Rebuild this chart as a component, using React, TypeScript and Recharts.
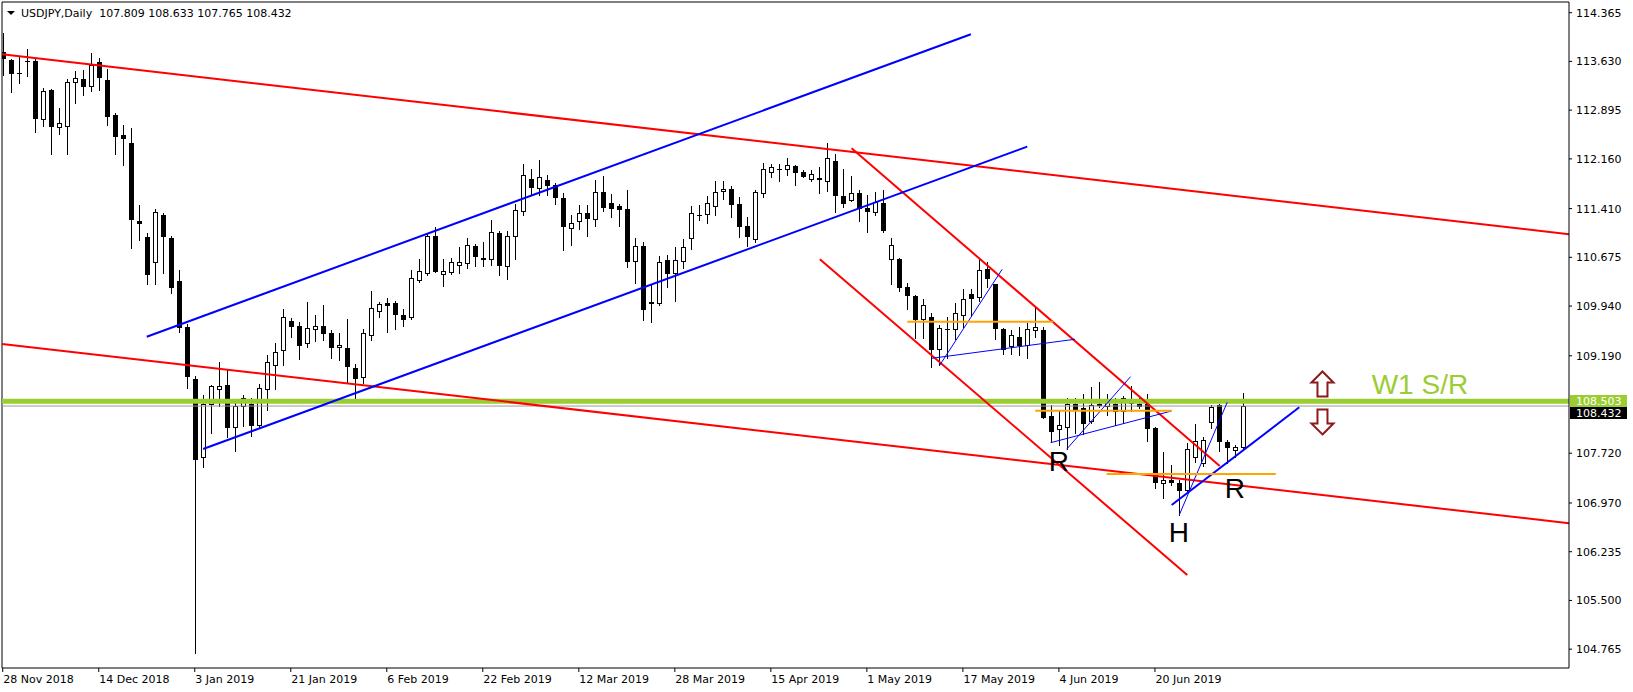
import React from 'react';
import { ComposedChart, Bar, XAxis, YAxis, ReferenceLine, ReferenceDot } from 'recharts';

const dates = [
  '28 Nov 2018','29 Nov 2018','30 Nov 2018','3 Dec 2018','4 Dec 2018','5 Dec 2018','6 Dec 2018','7 Dec 2018','10 Dec 2018','11 Dec 2018',
  '12 Dec 2018','13 Dec 2018','14 Dec 2018','17 Dec 2018','18 Dec 2018','19 Dec 2018','20 Dec 2018','21 Dec 2018','24 Dec 2018','26 Dec 2018',
  '27 Dec 2018','28 Dec 2018','31 Dec 2018','2 Jan 2019','3 Jan 2019','4 Jan 2019','7 Jan 2019','8 Jan 2019','9 Jan 2019','10 Jan 2019',
  '11 Jan 2019','14 Jan 2019','15 Jan 2019','16 Jan 2019','17 Jan 2019','18 Jan 2019','21 Jan 2019','22 Jan 2019','23 Jan 2019','24 Jan 2019',
  '25 Jan 2019','28 Jan 2019','29 Jan 2019','30 Jan 2019','31 Jan 2019','1 Feb 2019','4 Feb 2019','5 Feb 2019','6 Feb 2019','7 Feb 2019',
  '8 Feb 2019','11 Feb 2019','12 Feb 2019','13 Feb 2019','14 Feb 2019','15 Feb 2019','18 Feb 2019','19 Feb 2019','20 Feb 2019','21 Feb 2019',
  '22 Feb 2019','25 Feb 2019','26 Feb 2019','27 Feb 2019','28 Feb 2019','1 Mar 2019','4 Mar 2019','5 Mar 2019','6 Mar 2019','7 Mar 2019',
  '8 Mar 2019','11 Mar 2019','12 Mar 2019','13 Mar 2019','14 Mar 2019','15 Mar 2019','18 Mar 2019','19 Mar 2019','20 Mar 2019','21 Mar 2019',
  '22 Mar 2019','25 Mar 2019','26 Mar 2019','27 Mar 2019','28 Mar 2019','29 Mar 2019','1 Apr 2019','2 Apr 2019','3 Apr 2019','4 Apr 2019',
  '5 Apr 2019','8 Apr 2019','9 Apr 2019','10 Apr 2019','11 Apr 2019','12 Apr 2019','15 Apr 2019','16 Apr 2019','17 Apr 2019','18 Apr 2019',
  '19 Apr 2019','22 Apr 2019','23 Apr 2019','24 Apr 2019','25 Apr 2019','26 Apr 2019','29 Apr 2019','30 Apr 2019','1 May 2019','2 May 2019',
  '3 May 2019','6 May 2019','7 May 2019','8 May 2019','9 May 2019','10 May 2019','13 May 2019','14 May 2019','15 May 2019','16 May 2019',
  '17 May 2019','20 May 2019','21 May 2019','22 May 2019','23 May 2019','24 May 2019','27 May 2019','28 May 2019','29 May 2019','30 May 2019',
  '31 May 2019','3 Jun 2019','4 Jun 2019','5 Jun 2019','6 Jun 2019','7 Jun 2019','10 Jun 2019','11 Jun 2019','12 Jun 2019','13 Jun 2019',
  '14 Jun 2019','17 Jun 2019','18 Jun 2019','19 Jun 2019','20 Jun 2019','21 Jun 2019','24 Jun 2019','25 Jun 2019','26 Jun 2019','27 Jun 2019',
  '28 Jun 2019','1 Jul 2019','2 Jul 2019','3 Jul 2019','4 Jul 2019','5 Jul 2019',
];

const opens = [
  113.77,113.65,113.46,113.64,113.64,112.76,113.20,112.64,112.65,113.32,
  113.37,113.26,113.62,113.35,112.82,112.52,112.40,111.23,110.98,110.61,
  111.31,110.96,110.32,109.63,108.84,107.67,108.47,108.69,108.75,108.11,
  108.43,108.47,108.14,108.69,109.05,109.27,109.72,109.64,109.38,109.60,
  109.64,109.54,109.33,109.31,109.01,108.87,109.51,109.87,109.98,109.98,
  109.81,109.77,110.33,110.44,110.99,110.43,110.46,110.56,110.59,110.85,
  110.66,110.65,111.04,110.55,110.99,111.38,111.86,111.72,111.84,111.77,
  111.57,111.12,111.22,111.34,111.26,111.66,111.49,111.45,111.40,110.62,
  110.85,110.00,109.98,110.64,110.44,110.62,110.96,111.32,111.33,111.45,
  111.67,111.70,111.48,111.15,110.95,111.64,111.96,112.01,112.00,112.05,
  111.96,111.85,111.87,111.83,112.13,111.60,111.54,111.64,111.42,111.36,
  111.49,110.65,110.65,110.22,110.09,109.74,109.77,109.29,109.60,109.59,
  109.81,110.12,110.07,110.50,110.27,109.59,109.34,109.47,109.36,109.58,
  109.58,108.28,108.08,108.12,108.46,108.40,108.20,108.45,108.44,108.47,
  108.35,108.48,108.46,108.46,108.10,107.27,107.32,107.27,107.16,107.66,
  107.57,108.19,108.45,107.89,107.77,107.809,
];
const highs = [
  114.06,113.67,113.70,113.81,113.66,113.23,113.21,112.92,113.37,113.48,
  113.50,113.75,113.68,113.51,112.85,112.67,112.62,111.47,111.04,111.40,
  111.35,111.00,110.48,109.67,108.89,108.60,108.75,109.09,108.98,108.48,
  108.60,108.55,108.77,109.20,109.39,109.90,109.76,109.70,110.00,109.81,
  109.95,109.58,109.54,109.74,109.06,109.59,110.17,110.00,110.06,110.01,
  109.90,110.48,110.65,111.04,111.13,110.65,110.66,110.83,110.96,110.87,
  110.90,111.24,111.07,111.07,111.48,112.08,112.00,112.14,111.92,111.80,
  111.64,111.31,111.47,111.47,111.84,111.90,111.63,111.48,111.69,110.96,
  110.90,110.26,110.69,110.71,110.83,110.95,111.45,111.47,111.60,111.83,
  111.82,111.75,111.59,111.29,111.69,112.10,112.09,112.09,112.17,112.07,
  111.99,111.99,112.03,112.40,112.23,112.01,111.90,111.69,111.62,111.66,
  111.69,110.96,110.67,110.29,110.10,110.05,109.83,109.66,109.77,109.98,
  110.19,110.19,110.65,110.61,110.28,109.61,109.58,109.62,109.68,109.92,
  109.62,108.45,108.35,108.56,108.55,108.61,108.72,108.80,108.62,108.55,
  108.58,108.74,108.55,108.61,108.12,107.74,107.54,107.32,107.87,108.16,
  107.97,108.45,108.47,107.92,107.85,108.633,
];
const lows = [
  113.43,113.17,113.31,113.41,112.57,112.65,112.23,112.54,112.23,113.00,
  113.12,113.19,113.20,112.67,112.23,112.07,110.81,110.94,110.27,110.28,
  110.44,110.14,109.55,108.70,104.71,107.51,108.02,108.43,107.97,107.76,
  108.13,107.98,108.12,108.37,108.69,109.05,109.47,109.14,109.32,109.42,
  109.43,109.15,109.13,108.80,108.55,108.78,109.43,109.77,109.55,109.60,
  109.64,109.75,110.31,110.41,110.45,110.25,110.43,110.44,110.52,110.55,
  110.55,110.56,110.41,110.35,110.65,111.31,111.63,111.62,111.61,111.48,
  110.78,110.86,111.10,111.00,111.14,111.38,111.29,111.15,110.53,110.29,
  109.73,109.70,109.96,110.23,110.01,110.51,110.80,111.24,111.20,111.31,
  111.56,111.28,110.98,110.84,110.90,111.58,111.88,111.83,111.91,111.76,
  111.89,111.82,111.65,111.67,111.36,111.43,111.53,111.23,111.05,111.31,
  111.05,110.28,110.16,109.90,109.46,109.46,109.02,109.05,109.15,109.45,
  109.62,109.79,110.01,110.23,109.45,109.22,109.22,109.20,109.15,109.47,
  108.25,107.91,107.85,107.78,108.02,108.01,108.17,108.42,108.30,108.15,
  108.18,108.35,108.40,107.91,107.20,107.04,107.24,106.79,107.14,107.59,
  107.53,108.10,107.76,107.57,107.67,107.765,
];
const closes = [
  113.68,113.46,113.45,113.63,112.77,113.18,112.66,112.70,113.32,113.38,
  113.26,113.58,113.39,112.81,112.51,112.47,111.26,111.20,110.42,111.36,
  110.99,110.23,109.63,108.88,107.64,108.47,108.74,108.74,108.12,108.43,
  108.55,108.15,108.70,109.09,109.24,109.77,109.64,109.36,109.61,109.64,
  109.54,109.33,109.36,109.04,108.85,109.53,109.91,109.97,109.96,109.82,
  109.74,110.37,110.47,111.00,110.47,110.47,110.60,110.60,110.86,110.70,
  110.65,111.05,110.56,111.00,111.39,111.92,111.74,111.88,111.77,111.58,
  111.15,111.20,111.34,111.27,111.66,111.44,111.42,111.40,110.62,110.85,
  109.90,109.99,110.61,110.44,110.64,110.83,111.35,111.31,111.49,111.66,
  111.70,111.48,111.14,111.00,111.66,112.00,112.03,112.00,112.07,111.96,
  111.90,111.93,111.86,112.18,111.61,111.50,111.64,111.42,111.38,111.51,
  111.08,110.86,110.23,110.10,109.74,109.95,109.29,109.61,109.59,109.84,
  110.04,110.06,110.48,110.36,109.61,109.29,109.51,109.36,109.59,109.62,
  108.27,108.06,108.14,108.46,108.37,108.18,108.45,108.46,108.50,108.35,
  108.55,108.49,108.44,108.10,107.29,107.31,107.29,107.16,107.78,107.91,
  107.92,108.42,107.91,107.82,107.81,108.432,
];

const tickIdx = [0, 12, 24, 36, 48, 60, 72, 84, 96, 108, 120, 132, 144];
const priceTicks = [114.365, 113.63, 112.895, 112.16, 111.41, 110.675, 109.94, 109.19, 107.72, 106.97, 106.235, 105.5, 104.765];
const srLevel = 108.503;
const xDomain: [number, number] = [-0.09, 195.75];
const yDomain: [number, number] = [104.481, 114.526];

// trend lines: [barIndex1, price1, barIndex2, price2]
const redLines = [
  [-0.09, 113.738, 195.75, 111.023],
  [-0.09, 109.368, 195.75, 106.664],
  [106.09, 112.32, 152.1, 107.528],
  [102.125, 110.646, 148.04, 105.884],
];
const blueLines = [
  [18.0, 109.478, 121.0, 114.039],
  [25.04, 107.784, 128.04, 112.344],
  [146.09, 106.94, 162.04, 108.413],
];
const thinBlueLines = [
  [117.04, 109.036, 124.91, 110.495],
  [116.09, 109.152, 134.0, 109.439],
  [132.96, 107.78, 140.96, 108.875],
  [130.96, 107.879, 146.08, 108.357],
  [147.04, 106.789, 153.04, 108.489],
];
const orangeLines = [
  [113.04, 109.704, 131.29, 109.704],
  [129.04, 108.362, 146.08, 108.362],
  [137.96, 107.407, 159.1, 107.407],
];
const letters = [
  { x: 132.0, y: 107.603, t: 'R' },
  { x: 147.0, y: 106.537, t: 'H' },
  { x: 154.0, y: 107.192, t: 'R' },
];
const srLabel = { x: 171.09, y: 108.765, t: 'W1 S/R' };
const arrows = [
  { x: 164.94, y: 108.765, dir: 'up' },
  { x: 164.94, y: 108.192, dir: 'down' },
];

const data = dates.map((d, i) => ({
  idx: i,
  date: d,
  o: opens[i],
  h: highs[i],
  l: lows[i],
  c: closes[i],
  range: [lows[i], highs[i]],
}));

const last = data[data.length - 1];
const AXIS_FONT = 'DejaVu Sans, Tahoma, sans-serif';
const BIG_FONT = 'Liberation Sans, Arial, sans-serif';

function Candle(props: any) {
  const { x, y, width, height, payload } = props;
  if (x == null || y == null || !payload) return null;
  const top = Math.min(y, y + height);
  const bot = Math.max(y, y + height);
  const { o, h, l, c } = payload;
  const span = h - l || 1;
  const py = (p: number) => top + ((h - p) / span) * (bot - top);
  const cx = Math.floor(x + width / 2) + 0.5;
  const yo = py(o);
  const yc = py(c);
  const bt = Math.round(Math.min(yo, yc)) + 0.5;
  const bb = Math.round(Math.max(yo, yc)) + 0.5;
  const up = c >= o;
  return (
    <g shapeRendering="crispEdges">
      <line x1={cx} x2={cx} y1={Math.round(top)} y2={Math.round(bot) + 1} stroke="#000" strokeWidth={1} />
      {bb - bt < 1 ? (
        <line x1={cx - 2.5} x2={cx + 2.5} y1={bt} y2={bt} stroke="#000" strokeWidth={1} />
      ) : (
        <rect x={cx - 2} y={bt} width={4} height={bb - bt} fill={up ? '#fff' : '#000'} stroke="#000" strokeWidth={1} />
      )}
    </g>
  );
}

const XTick = (props: any) => {
  const { x, y, payload } = props;
  return (
    <text x={x + 0.5} y={y + 11} textAnchor="start" fontSize={11} fontFamily={AXIS_FONT} fill="#000">
      {dates[payload.value]}
    </text>
  );
};

// price tag on the right axis; dy shifts the tag so both tags stay readable
const AxisPriceLabel = (bg: string, value: number, dy: number) => (props: any) => {
  const { cx, cy } = props;
  if (cx == null || cy == null) return null;
  const top = Math.round(cy - 6 + dy);
  return (
    <g shapeRendering="crispEdges">
      <rect x={cx + 1} y={top} width={57} height={12} fill={bg} />
      <text x={cx + 7} y={top + 10} fontSize={11} fontFamily={AXIS_FONT} fill="#fff">
        {value.toFixed(3)}
      </text>
    </g>
  );
};

const LetterShape = (t: string, color: string, anchor: 'middle' | 'start') => (props: any) => {
  const { cx, cy } = props;
  if (cx == null || cy == null) return null;
  return (
    <text x={cx} y={cy + 10} textAnchor={anchor} fontSize={28} fontFamily={BIG_FONT} fill={color}>
      {t}
    </text>
  );
};

const ArrowShape = (dir: string) => (props: any) => {
  const { cx, cy } = props;
  if (cx == null || cy == null) return null;
  const s = dir === 'up' ? 1 : -1;
  const p = (dx: number, dy: number) => `${cx + dx},${cy + s * dy}`;
  const d = `M${p(0, -12.5)} L${p(11, -1.5)} L${p(5, -1.5)} L${p(5, 12.5)} L${p(-5, 12.5)} L${p(-5, -1.5)} L${p(-11, -1.5)} Z`;
  return <path d={d} fill="#fff" stroke="#8b1a1a" strokeWidth={2} strokeLinejoin="miter" />;
};

const seg = (l: number[]) => [
  { x: l[0], y: l[1] },
  { x: l[2], y: l[3] },
];

export default function App() {
  return (
    <div style={{ position: 'absolute', left: 0, top: 0, width: 1633, height: 692, background: '#fff', overflow: 'hidden' }}>
      <ComposedChart
        width={1633}
        height={692}
        data={data}
        margin={{ top: 2, right: 0, bottom: 0, left: 2 }}
      >
        <XAxis
          type="number"
          dataKey="idx"
          domain={xDomain}
          allowDataOverflow
          ticks={tickIdx}
          interval={0}
          tick={<XTick />}
          tickSize={4}
          tickMargin={0}
          height={24}
          axisLine={{ stroke: '#000' }}
          tickLine={{ stroke: '#000' }}
        />
        <YAxis
          type="number"
          orientation="right"
          domain={yDomain}
          allowDataOverflow
          ticks={priceTicks}
          interval={0}
          width={64}
          tickSize={3}
          tickMargin={4}
          tickFormatter={(v: number) => v.toFixed(3)}
          tick={{ fontSize: 11, fill: '#000', fontFamily: AXIS_FONT }}
          axisLine={{ stroke: '#000' }}
          tickLine={{ stroke: '#000' }}
        />
        <Bar dataKey="range" barSize={5} shape={<Candle />} isAnimationActive={false} />

        <ReferenceLine x={xDomain[0]} stroke="#000" strokeWidth={1} ifOverflow="visible" />
        <ReferenceLine y={yDomain[1]} stroke="#000" strokeWidth={1} ifOverflow="visible" />

        <ReferenceLine y={last.c} stroke="#9a9a9a" strokeWidth={1} />
        <ReferenceLine y={srLevel} stroke="#9acd32" strokeWidth={5} />

        {redLines.map((l, i) => (
          <ReferenceLine key={'r' + i} segment={seg(l)} stroke="#ff0000" strokeWidth={2} ifOverflow="hidden" />
        ))}
        {blueLines.map((l, i) => (
          <ReferenceLine key={'b' + i} segment={seg(l)} stroke="#0000ff" strokeWidth={2} ifOverflow="hidden" />
        ))}
        {thinBlueLines.map((l, i) => (
          <ReferenceLine key={'tb' + i} segment={seg(l)} stroke="#0000ff" strokeWidth={1} ifOverflow="hidden" />
        ))}
        {orangeLines.map((l, i) => (
          <ReferenceLine key={'o' + i} segment={seg(l)} stroke="#ffa500" strokeWidth={2} ifOverflow="hidden" />
        ))}

        {letters.map((a, i) => (
          <ReferenceDot key={'t' + i} x={a.x} y={a.y} ifOverflow="visible" shape={LetterShape(a.t, '#000', 'middle')} />
        ))}
        <ReferenceDot x={srLabel.x} y={srLabel.y} ifOverflow="visible" shape={LetterShape(srLabel.t, '#9acd32', 'start')} />
        {arrows.map((a, i) => (
          <ReferenceDot key={'a' + i} x={a.x} y={a.y} ifOverflow="visible" shape={ArrowShape(a.dir)} />
        ))}

        <ReferenceDot x={xDomain[1]} y={last.c} ifOverflow="visible" shape={AxisPriceLabel('#000', last.c, 7)} />
        <ReferenceDot x={xDomain[1]} y={srLevel} ifOverflow="visible" shape={AxisPriceLabel('#9acd32', srLevel, 0)} />
      </ComposedChart>
      <svg style={{ position: 'absolute', left: 0, top: 0 }} width={400} height={24}>
        <polygon points="7,11 15,11 11,15" fill="#000" />
        <text x={21} y={17} fontSize={11} fontFamily={AXIS_FONT} fill="#000" style={{ whiteSpace: 'pre' }}>
          {`USDJPY,Daily  ${last.o.toFixed(3)} ${last.h.toFixed(3)} ${last.l.toFixed(3)} ${last.c.toFixed(3)}`}
        </text>
      </svg>
    </div>
  );
}
